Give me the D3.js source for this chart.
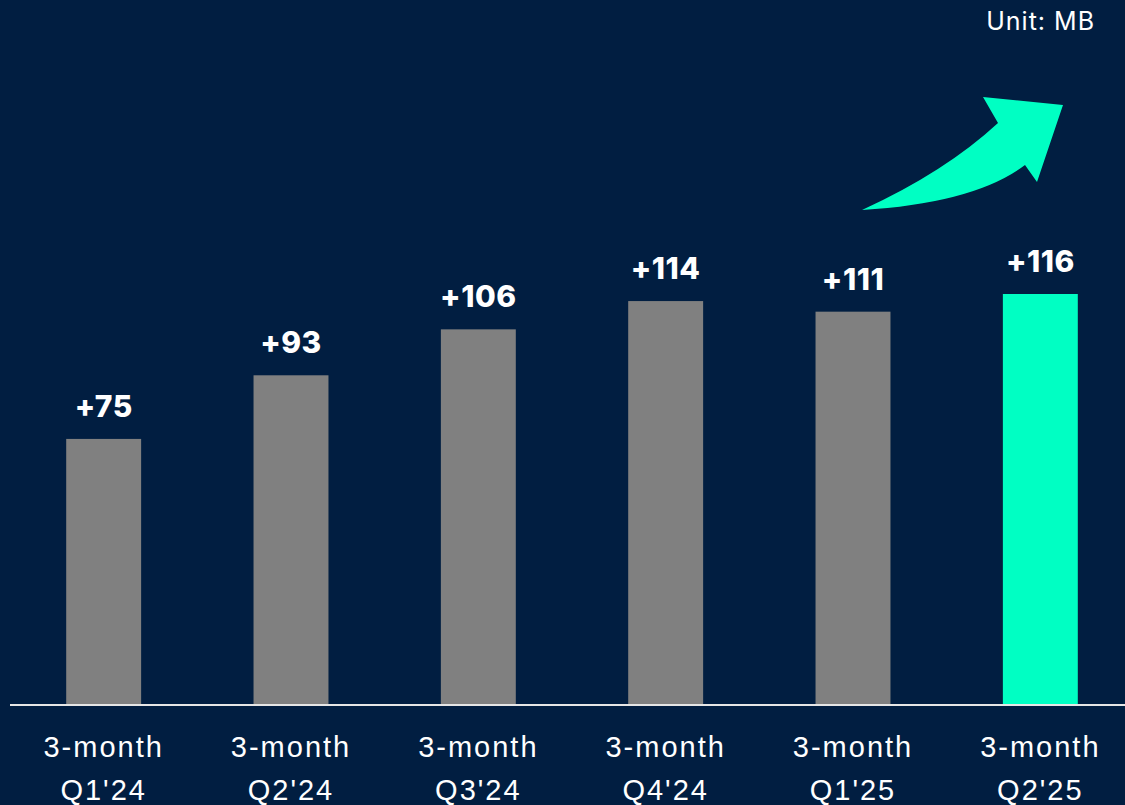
<!DOCTYPE html>
<html>
<head>
<meta charset="utf-8">
<script src="https://cdn.jsdelivr.net/npm/d3@7"></script>
<style>
  html, body { margin: 0; padding: 0; background: #011e41; overflow: hidden; }
  svg { display: block; font-family: "Inter", "Open Sans", sans-serif; }
</style>
</head>
<body>
<div id="chart"></div>
<script>
// data
const periods = ["Q1'24", "Q2'24", "Q3'24", "Q4'24", "Q1'25", "Q2'25"];
const prefix = "3-month";
const values = [75, 93, 106, 114, 111, 116];
const unit = "Unit: MB";

// constants
const w = 1125;
const h = 805;
const baseY = 704;
const grey = "#808080";
const accent = "#00ffc3";

const svg = d3.select("#chart").append("svg").attr("width", w).attr("height", h);
svg.append("rect").attr("width", w).attr("height", h).attr("fill", "#011e41");

// scales
const xScale = d3.scaleBand().domain(periods).range([10, 1134]).paddingInner(0.6).paddingOuter(0.3);
const yScale = d3.scaleLinear().domain([0, 116]).range([baseY, 294]);

// bars
svg.selectAll(".bar")
    .data(values)
    .enter().append("rect")
    .attr("x", (d, i) => xScale(periods[i]))
    .attr("y", d => yScale(d))
    .attr("width", xScale.bandwidth())
    .attr("height", d => baseY - yScale(d))
    .attr("fill", (d, i) => i == values.length - 1 ? accent : grey);

// value labels
svg.selectAll(".val")
    .data(values)
    .enter().append("text")
    .attr("x", (d, i) => xScale(periods[i]) + xScale.bandwidth() / 2)
    .attr("y", d => yScale(d) - 22)
    .attr("text-anchor", "middle")
    .attr("fill", "#ffffff")
    .attr("font-size", 30)
    .attr("font-weight", 800)
    .attr("letter-spacing", 0.5)
    .text(d => "+" + d);

// baseline
svg.append("line")
    .attr("x1", 10).attr("x2", w)
    .attr("y1", baseY + 1).attr("y2", baseY + 1)
    .attr("stroke", "#e6e6e6").attr("stroke-width", 2);

// category labels
const xAxis = d3.axisBottom(xScale).tickSize(0).tickPadding(0).tickFormat("");
const gx = svg.append("g").attr("transform", "translate(0," + baseY + ")").call(xAxis);
gx.select(".domain").remove();
gx.selectAll(".tick").each(function (d) {
    const t = d3.select(this).append("text")
        .attr("fill", "#ffffff")
        .attr("font-size", 29)
        .attr("letter-spacing", 2)
        .attr("text-anchor", "middle");
    t.append("tspan").attr("x", 0).attr("y", 53).text(prefix);
    t.append("tspan").attr("x", 0).attr("y", 96).text(d);
});

// unit
svg.append("text")
    .attr("x", 1095).attr("y", 30)
    .attr("text-anchor", "end")
    .attr("fill", "#ffffff")
    .attr("font-size", 25)
    .attr("letter-spacing", 1)
    .text(unit);

// trend arrow
svg.append("path")
    .attr("d", "M862,210 Q945,172 998,123 L983,97 L1063,105 L1037,182 L1025,165 Q975,203 862,210 Z")
    .attr("fill", accent);
</script>
</body>
</html>
